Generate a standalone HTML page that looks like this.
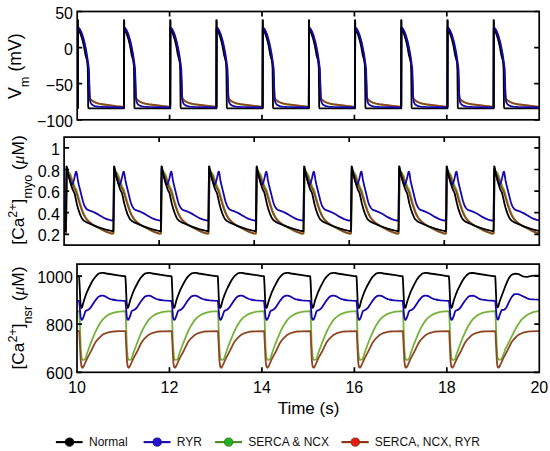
<!DOCTYPE html>
<html><head><meta charset="utf-8"><title>Simulation traces</title>
<style>html,body{margin:0;padding:0;background:#fff;overflow:hidden;}svg{display:block;}</style>
</head><body>
<svg width="550" height="451" viewBox="0 0 550 451">
<rect width="550" height="451" fill="#fff"/>
<clipPath id="c0"><rect x="77.20" y="8.50" width="462.00" height="114.30"/></clipPath>
<clipPath id="c1"><rect x="64.10" y="134.10" width="475.20" height="114.00"/></clipPath>
<clipPath id="c2"><rect x="77.00" y="261.10" width="462.30" height="114.20"/></clipPath>
<g clip-path="url(#c0)"><g fill="none" stroke-width="1.80" stroke-linejoin="round" stroke-linecap="round"><path d="M77.2,107.0 77.7,107.0 77.8,105.2 78.0,28.0 78.8,28.3 79.6,29.5 81.0,32.3 82.2,35.5 83.2,38.9 84.2,43.1 85.4,48.4 86.4,54.1 87.6,61.5 88.5,69.8 88.9,75.8 89.6,94.6 89.7,96.3 90.0,98.4 90.4,99.2 90.9,100.0 92.2,101.0 93.6,101.8 95.2,102.6 97.3,103.4 100.9,104.3 116.4,106.3 123.9,107.0 124.0,105.2 124.2,28.0 125.0,28.3 125.8,29.5 127.2,32.3 128.3,35.1 129.4,38.9 130.3,42.6 131.5,47.9 132.5,53.4 133.7,60.7 134.6,68.4 135.1,75.8 135.8,94.6 136.1,97.9 136.6,99.2 137.0,99.8 137.8,100.5 140.0,102.0 142.8,103.1 145.7,104.0 148.6,104.5 162.1,106.2 170.1,107.0 170.2,105.2 170.4,28.0 171.2,28.3 172.0,29.5 173.4,32.3 174.5,35.1 175.6,38.9 176.5,42.6 177.7,47.9 178.7,53.4 179.9,60.7 180.8,68.4 181.3,75.8 182.0,94.6 182.3,97.9 182.8,99.2 183.2,99.8 184.0,100.5 186.2,102.0 189.0,103.1 191.9,104.0 194.8,104.5 208.3,106.2 216.3,107.0 216.4,105.2 216.6,28.0 217.4,28.3 218.2,29.5 219.6,32.3 220.7,35.1 221.8,38.9 222.7,42.6 223.9,47.9 224.9,53.4 226.1,60.7 227.0,68.4 227.5,75.8 228.2,94.6 228.5,97.9 229.0,99.2 229.4,99.8 230.2,100.5 232.4,102.0 235.2,103.1 238.1,104.0 241.0,104.5 254.5,106.2 262.5,107.0 262.6,105.2 262.8,28.0 263.6,28.3 264.4,29.5 265.8,32.3 266.9,35.1 268.0,38.9 268.9,42.6 270.1,47.9 271.1,53.4 272.3,60.7 273.2,68.4 273.7,75.8 274.4,94.6 274.7,97.9 275.2,99.2 275.6,99.8 276.4,100.5 278.6,102.0 281.4,103.1 284.3,104.0 287.2,104.5 300.7,106.2 308.7,107.0 308.8,105.2 309.0,28.0 309.8,28.3 310.6,29.5 312.0,32.3 313.1,35.1 314.2,38.9 315.1,42.6 316.3,47.9 317.3,53.4 318.5,60.7 319.4,68.4 319.9,75.8 320.6,94.6 320.9,97.9 321.4,99.2 321.8,99.8 322.6,100.5 324.8,102.0 327.6,103.1 330.5,104.0 333.4,104.5 346.9,106.2 354.9,107.0 355.0,105.2 355.2,28.0 356.0,28.3 356.8,29.5 358.2,32.3 359.3,35.1 360.4,38.9 361.3,42.6 362.5,47.9 363.5,53.4 364.7,60.7 365.6,68.4 366.1,75.8 366.8,94.6 367.1,97.9 367.6,99.2 368.0,99.8 368.8,100.5 371.0,102.0 373.8,103.1 376.7,104.0 379.6,104.5 393.1,106.2 401.1,107.0 401.2,105.2 401.4,28.0 402.2,28.3 403.0,29.5 404.4,32.3 405.5,35.1 406.6,38.9 407.5,42.6 408.7,47.9 409.7,53.4 410.9,60.7 411.8,68.4 412.3,75.8 413.0,94.6 413.3,97.9 413.8,99.2 414.2,99.8 415.0,100.5 417.2,102.0 420.0,103.1 422.9,104.0 425.8,104.5 439.3,106.2 447.3,107.0 447.4,105.2 447.6,28.0 448.4,28.3 449.2,29.5 450.6,32.3 451.7,35.1 452.8,38.9 453.7,42.6 454.9,47.9 455.9,53.4 457.1,60.7 458.0,68.4 458.5,75.8 459.2,94.6 459.5,97.9 460.0,99.2 460.4,99.8 461.2,100.5 463.4,102.0 466.2,103.1 469.1,104.0 472.0,104.5 485.5,106.2 493.5,107.0 493.6,105.2 493.8,28.0 494.6,28.3 495.4,29.5 496.8,32.3 497.9,35.1 499.0,38.9 499.9,42.6 501.1,47.9 502.1,53.4 503.3,60.7 504.2,68.4 504.7,75.8 505.4,94.6 505.7,97.9 506.2,99.2 506.6,99.8 507.4,100.5 509.6,102.0 512.4,103.1 515.3,104.0 518.1,104.5 531.5,106.2 539.2,107.0" stroke="#74b23a"/><path d="M77.2,106.8 77.7,106.8 77.8,105.0 78.0,28.0 79.2,29.4 80.4,31.7 81.2,33.7 82.2,36.5 83.1,39.7 84.1,44.0 86.1,53.9 87.2,61.4 88.2,69.7 88.9,79.1 89.6,95.2 90.0,98.2 90.4,98.9 90.9,99.6 92.6,100.8 94.1,101.8 97.4,103.1 100.9,104.0 116.5,106.1 123.9,106.8 124.0,105.0 124.2,28.0 125.4,29.4 126.6,31.7 127.4,33.7 128.4,36.5 129.3,39.7 130.3,44.0 132.3,53.9 133.4,61.4 134.4,69.7 135.1,79.1 135.8,95.2 136.1,97.7 136.5,98.7 137.3,99.7 140.1,101.7 142.6,102.8 145.5,103.7 148.2,104.2 162.3,106.0 170.1,106.8 170.2,105.0 170.4,28.0 171.6,29.4 172.8,31.7 173.6,33.7 174.6,36.5 175.5,39.7 176.5,44.0 178.5,53.9 179.6,61.4 180.6,69.7 181.3,79.1 182.0,95.2 182.3,97.7 182.7,98.7 183.5,99.7 186.3,101.7 188.8,102.8 191.7,103.7 194.4,104.2 208.5,106.0 216.3,106.8 216.4,105.0 216.6,28.0 217.8,29.4 219.0,31.7 219.8,33.7 220.8,36.5 221.7,39.7 222.7,44.0 224.7,53.9 225.8,61.4 226.8,69.7 227.5,79.1 228.2,95.2 228.5,97.7 228.9,98.7 229.7,99.7 232.5,101.7 235.0,102.8 237.9,103.7 240.6,104.2 254.7,106.0 262.5,106.8 262.6,105.0 262.8,28.0 264.0,29.4 265.2,31.7 266.0,33.7 267.0,36.5 267.9,39.7 268.9,44.0 270.9,53.9 272.0,61.4 273.0,69.7 273.7,79.1 274.4,95.2 274.7,97.7 275.1,98.7 275.9,99.7 278.7,101.7 281.2,102.8 284.1,103.7 286.8,104.2 300.9,106.0 308.7,106.8 308.8,105.0 309.0,28.0 310.2,29.4 311.4,31.7 312.2,33.7 313.2,36.5 314.1,39.7 315.1,44.0 317.1,53.9 318.2,61.4 319.2,69.7 319.9,79.1 320.6,95.2 320.9,97.7 321.3,98.7 322.1,99.7 324.9,101.7 327.4,102.8 330.3,103.7 333.0,104.2 347.1,106.0 354.9,106.8 355.0,105.0 355.2,28.0 356.4,29.4 357.6,31.7 358.4,33.7 359.4,36.5 360.3,39.7 361.3,44.0 363.3,53.9 364.4,61.4 365.4,69.7 366.1,79.1 366.8,95.2 367.1,97.7 367.5,98.7 368.3,99.7 371.1,101.7 373.6,102.8 376.5,103.7 379.2,104.2 393.3,106.0 401.1,106.8 401.2,105.0 401.4,28.0 402.6,29.4 403.8,31.7 404.6,33.7 405.6,36.5 406.5,39.7 407.5,44.0 409.5,53.9 410.6,61.4 411.6,69.7 412.3,79.1 413.0,95.2 413.3,97.7 413.7,98.7 414.5,99.7 417.3,101.7 419.8,102.8 422.7,103.7 425.4,104.2 439.5,106.0 447.3,106.8 447.4,105.0 447.6,28.0 448.8,29.4 450.0,31.7 450.8,33.7 451.8,36.5 452.7,39.7 453.7,44.0 455.7,53.9 456.8,61.4 457.8,69.7 458.5,79.1 459.2,95.2 459.5,97.7 459.9,98.7 460.7,99.7 463.5,101.7 466.0,102.8 468.9,103.7 471.6,104.2 485.7,106.0 493.5,106.8 493.6,105.0 493.8,28.0 495.0,29.4 496.2,31.7 497.0,33.7 498.0,36.5 498.9,39.7 499.9,44.0 501.9,53.9 503.0,61.4 504.0,69.7 504.7,79.1 505.4,95.2 505.7,97.7 506.1,98.7 506.9,99.7 509.7,101.7 512.2,102.8 515.1,103.7 517.8,104.2 531.8,106.0 539.2,106.8" stroke="#8e4622"/><path d="M77.2,108.4 77.7,108.4 77.8,105.3 78.0,20.4 78.1,26.2 78.2,27.8 78.5,29.0 78.8,30.0 79.6,31.5 80.9,34.9 82.4,39.7 83.9,46.1 85.6,55.6 86.8,59.4 87.5,62.7 87.7,65.4 87.8,70.6 88.2,106.3 88.4,107.9 88.6,108.2 89.1,108.3 90.1,108.4 123.9,108.4 124.0,105.3 124.2,20.4 124.3,26.2 124.4,27.8 124.7,29.0 125.0,30.0 125.8,31.5 127.1,34.9 128.6,39.7 130.1,46.1 131.8,55.6 133.0,59.4 133.7,62.7 133.9,65.4 134.0,70.6 134.4,106.3 134.5,107.4 134.7,108.1 135.3,108.3 136.2,108.4 170.1,108.4 170.2,105.3 170.4,20.4 170.5,26.2 170.6,27.8 170.9,29.0 171.2,30.0 172.0,31.5 173.3,34.9 174.8,39.7 176.3,46.1 178.0,55.6 179.2,59.4 179.9,62.7 180.1,65.4 180.2,70.6 180.6,106.3 180.7,107.4 180.9,108.1 181.5,108.3 182.4,108.4 216.3,108.4 216.4,105.3 216.6,20.4 216.7,26.2 216.8,27.8 217.1,29.0 217.4,30.0 218.2,31.5 219.5,34.9 221.0,39.7 222.5,46.1 224.2,55.6 225.4,59.4 226.1,62.7 226.3,65.4 226.4,70.6 226.8,106.3 226.9,107.4 227.1,108.1 227.7,108.3 228.6,108.4 262.5,108.4 262.6,105.3 262.8,20.4 262.9,26.2 263.0,27.8 263.3,29.0 263.6,30.0 264.4,31.5 265.7,34.9 267.2,39.7 268.7,46.1 270.4,55.6 271.6,59.4 272.3,62.7 272.5,65.4 272.6,70.6 273.0,106.3 273.1,107.4 273.3,108.1 273.9,108.3 274.8,108.4 308.7,108.4 308.8,105.3 309.0,20.4 309.1,26.2 309.2,27.8 309.5,29.0 309.8,30.0 310.6,31.5 311.9,34.9 313.4,39.7 314.9,46.1 316.6,55.6 317.8,59.4 318.5,62.7 318.7,65.4 318.8,70.6 319.2,106.3 319.3,107.4 319.5,108.1 320.1,108.3 321.0,108.4 354.9,108.4 355.0,105.3 355.2,20.4 355.3,26.2 355.4,27.8 355.7,29.0 356.0,30.0 356.8,31.5 358.1,34.9 359.6,39.7 361.1,46.1 362.8,55.6 364.0,59.4 364.7,62.7 364.9,65.4 365.0,70.6 365.4,106.3 365.5,107.4 365.7,108.1 366.3,108.3 367.2,108.4 401.1,108.4 401.2,105.3 401.4,20.4 401.5,26.2 401.6,27.8 401.9,29.0 402.2,30.0 403.0,31.5 404.3,34.9 405.8,39.7 407.3,46.1 409.0,55.6 410.2,59.4 410.9,62.7 411.1,65.4 411.2,70.6 411.6,106.3 411.7,107.4 411.9,108.1 412.5,108.3 413.4,108.4 447.3,108.4 447.4,105.3 447.6,20.4 447.7,26.2 447.8,27.8 448.1,29.0 448.4,30.0 449.2,31.5 450.5,34.9 452.0,39.7 453.5,46.1 455.2,55.6 456.4,59.4 457.1,62.7 457.3,65.4 457.4,70.6 457.8,106.3 457.9,107.4 458.1,108.1 458.7,108.3 459.6,108.4 493.5,108.4 493.6,105.3 493.8,20.4 493.9,26.2 494.0,27.8 494.3,29.0 494.6,30.0 495.4,31.5 496.7,34.9 498.2,39.7 499.7,46.1 501.4,55.6 502.6,59.4 503.3,62.7 503.5,65.4 503.6,70.6 504.0,106.3 504.1,107.4 504.3,108.1 504.9,108.3 505.8,108.4 539.2,108.4" stroke="#000000"/><path d="M77.2,107.5 77.7,107.5 77.8,105.7 78.0,28.0 79.0,28.2 79.7,29.0 81.4,32.2 82.4,35.1 83.6,38.8 84.7,43.5 85.9,48.9 87.0,55.3 88.5,65.7 88.9,69.2 89.1,74.7 89.6,95.6 89.8,98.6 90.1,100.7 90.8,103.1 91.2,103.7 91.6,104.2 92.6,105.0 93.6,105.6 94.8,106.1 96.0,106.3 98.5,106.7 101.2,106.8 123.9,107.5 124.0,105.7 124.2,28.0 125.2,28.2 125.9,29.0 127.4,32.0 128.5,34.7 129.6,38.4 130.7,42.5 131.8,47.7 133.0,53.9 134.1,61.4 135.1,69.2 135.9,97.3 136.3,100.7 136.8,102.4 137.3,103.5 138.4,104.8 139.9,105.7 141.3,106.2 143.7,106.6 148.3,106.9 170.1,107.5 170.2,105.7 170.4,28.0 171.4,28.2 172.1,29.0 173.6,32.0 174.7,34.7 175.8,38.4 176.9,42.5 178.0,47.7 179.2,53.9 180.3,61.4 181.3,69.2 182.1,97.3 182.5,100.7 183.0,102.4 183.5,103.5 184.6,104.8 186.1,105.7 187.5,106.2 189.9,106.6 194.5,106.9 216.3,107.5 216.4,105.7 216.6,28.0 217.6,28.2 218.3,29.0 219.8,32.0 220.9,34.7 222.0,38.4 223.1,42.5 224.2,47.7 225.4,53.9 226.5,61.4 227.5,69.2 228.3,97.3 228.7,100.7 229.2,102.4 229.7,103.5 230.8,104.8 232.3,105.7 233.7,106.2 236.1,106.6 240.7,106.9 262.5,107.5 262.6,105.7 262.8,28.0 263.8,28.2 264.5,29.0 266.0,32.0 267.1,34.7 268.2,38.4 269.3,42.5 270.4,47.7 271.6,53.9 272.7,61.4 273.7,69.2 274.5,97.3 274.9,100.7 275.4,102.4 275.9,103.5 277.0,104.8 278.5,105.7 279.9,106.2 282.3,106.6 286.9,106.9 308.7,107.5 308.8,105.7 309.0,28.0 310.0,28.2 310.7,29.0 312.2,32.0 313.3,34.7 314.4,38.4 315.5,42.5 316.6,47.7 317.8,53.9 318.9,61.4 319.9,69.2 320.7,97.3 321.1,100.7 321.6,102.4 322.1,103.5 323.2,104.8 324.7,105.7 326.1,106.2 328.5,106.6 333.1,106.9 354.9,107.5 355.0,105.7 355.2,28.0 356.2,28.2 356.9,29.0 358.4,32.0 359.5,34.7 360.6,38.4 361.7,42.5 362.8,47.7 364.0,53.9 365.1,61.4 366.1,69.2 366.9,97.3 367.3,100.7 367.8,102.4 368.3,103.5 369.4,104.8 370.9,105.7 372.3,106.2 374.7,106.6 379.3,106.9 401.1,107.5 401.2,105.7 401.4,28.0 402.4,28.2 403.1,29.0 404.6,32.0 405.7,34.7 406.8,38.4 407.9,42.5 409.0,47.7 410.2,53.9 411.3,61.4 412.3,69.2 413.1,97.3 413.5,100.7 414.0,102.4 414.5,103.5 415.6,104.8 417.1,105.7 418.5,106.2 420.9,106.6 425.5,106.9 447.3,107.5 447.4,105.7 447.6,28.0 448.6,28.2 449.3,29.0 450.8,32.0 451.9,34.7 453.0,38.4 454.1,42.5 455.2,47.7 456.4,53.9 457.5,61.4 458.5,69.2 459.3,97.3 459.7,100.7 460.2,102.4 460.7,103.5 461.8,104.8 463.3,105.7 464.7,106.2 467.1,106.6 471.7,106.9 493.5,107.5 493.6,105.7 493.8,28.0 494.8,28.2 495.5,29.0 497.0,32.0 498.1,34.7 499.2,38.4 500.3,42.5 501.4,47.7 502.6,53.9 503.7,61.4 504.7,69.2 505.5,97.3 505.9,100.7 506.4,102.4 506.9,103.5 508.0,104.8 509.5,105.7 510.9,106.2 513.3,106.6 517.8,106.9 539.2,107.5" stroke="#1606b0"/></g></g>
<path clip-path="url(#c0)" d="M77.87 108.39 V19.44 M124.07 108.39 V19.44 M170.27 108.39 V19.44 M216.47 108.39 V19.44 M262.67 108.39 V19.44 M308.87 108.39 V19.44 M355.07 108.39 V19.44 M401.27 108.39 V19.44 M447.47 108.39 V19.44 M493.67 108.39 V19.44 " stroke="#000" stroke-width="1.80" fill="none"/>
<g clip-path="url(#c1)"><g fill="none" stroke-width="1.80" stroke-linejoin="round" stroke-linecap="round"><path d="M64.1,233.9 65.8,233.9 65.9,233.5 66.0,231.4 67.1,178.5 67.4,170.6 68.0,171.0 69.7,173.3 70.5,174.7 71.1,176.0 73.2,182.9 74.9,186.8 76.2,189.4 76.8,190.9 80.1,203.0 82.5,210.5 84.2,214.6 85.4,216.8 86.4,218.5 88.1,220.6 90.0,222.4 92.4,224.4 95.1,226.2 104.5,231.1 108.3,232.7 111.6,233.9 113.3,233.9 113.4,233.5 113.5,231.4 114.6,178.5 114.9,170.6 115.5,171.0 117.2,173.3 118.0,174.7 118.6,176.0 120.8,182.9 122.4,186.8 123.7,189.4 124.3,190.9 127.7,203.0 130.0,210.5 131.7,214.6 132.9,216.8 134.0,218.5 135.6,220.6 137.5,222.4 139.9,224.4 142.6,226.2 152.0,231.1 155.8,232.7 159.1,233.9 160.8,233.9 160.9,233.5 161.0,231.4 162.1,178.5 162.5,170.6 163.1,171.0 164.7,173.3 165.6,174.7 166.1,176.0 168.3,182.9 170.0,186.8 171.3,189.4 171.9,190.9 175.2,203.0 177.6,210.5 179.2,214.6 180.4,216.8 181.5,218.5 183.1,220.6 185.0,222.4 187.4,224.4 190.1,226.2 199.5,231.1 203.3,232.7 206.7,233.9 208.3,233.9 208.4,233.5 208.6,231.4 209.6,178.5 210.0,170.6 210.6,171.0 212.2,173.3 213.1,174.7 213.7,176.0 215.8,182.9 217.5,186.8 218.8,189.4 219.4,190.9 222.7,203.0 225.1,210.5 226.7,214.6 227.9,216.8 229.0,218.5 230.7,220.6 232.6,222.4 234.9,224.4 237.7,226.2 247.1,231.1 250.9,232.7 254.2,233.9 255.8,233.9 256.0,233.5 256.1,231.4 257.1,178.5 257.5,170.6 258.1,171.0 259.8,173.3 260.6,174.7 261.2,176.0 263.3,182.9 265.0,186.8 266.3,189.4 266.9,190.9 270.2,203.0 272.6,210.5 274.3,214.6 275.4,216.8 276.5,218.5 278.2,220.6 280.1,222.4 282.5,224.4 285.2,226.2 294.6,231.1 298.4,232.7 301.7,233.9 303.4,233.9 303.5,233.5 303.6,231.4 304.7,178.5 305.0,170.6 305.6,171.0 307.3,173.3 308.1,174.7 308.7,176.0 310.8,182.9 312.5,186.8 313.8,189.4 314.4,190.9 317.7,203.0 320.1,210.5 321.7,214.3 322.8,216.6 323.9,218.4 325.5,220.3 327.2,222.1 329.6,224.1 332.1,225.8 334.5,227.2 341.6,230.9 344.7,232.3 347.8,233.4 349.2,233.9 350.9,233.9 351.0,233.5 351.4,222.9 352.2,178.5 352.5,170.6 353.1,171.0 354.7,173.2 356.1,175.7 358.4,182.9 360.0,186.8 361.3,189.4 361.9,190.9 365.5,203.8 367.8,210.8 369.4,214.8 370.6,217.0 371.7,218.7 373.5,220.8 375.7,222.9 378.2,224.9 381.2,226.7 388.5,230.6 391.6,232.0 396.7,233.9 398.4,233.9 398.5,233.5 398.8,227.8 399.7,178.5 400.1,170.6 400.7,171.0 402.2,173.2 403.6,175.7 405.9,182.9 407.6,186.8 408.9,189.4 409.5,190.9 413.0,203.8 415.3,210.8 416.9,214.8 418.1,217.0 419.2,218.7 421.0,220.8 423.2,222.9 425.7,224.9 428.7,226.7 436.1,230.6 439.2,232.0 444.3,233.9 445.9,233.9 446.0,233.5 446.3,227.8 447.2,178.5 447.6,170.6 448.2,171.0 449.7,173.2 451.2,175.7 453.4,182.9 455.1,186.8 456.4,189.4 457.0,190.9 460.5,203.8 462.8,210.8 464.5,214.8 465.6,217.0 466.7,218.7 468.5,220.8 470.8,222.9 473.2,224.9 476.2,226.7 483.6,230.6 486.7,232.0 491.8,233.9 493.4,233.9 493.6,233.5 493.7,231.4 493.9,222.9 494.7,178.5 495.0,171.6 495.1,170.6 495.2,170.6 495.7,171.0 497.5,173.5 498.8,176.0 500.9,182.9 502.6,186.8 503.9,189.4 504.5,190.9 507.8,203.0 510.2,210.5 511.9,214.6 513.0,216.8 514.1,218.5 515.8,220.6 517.7,222.4 520.1,224.4 522.8,226.2 532.2,231.1 536.0,232.7 539.3,233.9" stroke="#74b23a"/><path d="M64.1,233.4 65.8,233.4 65.9,232.8 66.1,223.7 66.7,182.2 67.0,172.2 67.1,171.1 67.4,171.3 67.9,172.0 70.5,177.1 72.8,184.5 74.0,187.3 75.6,190.5 76.2,192.0 79.2,202.3 81.6,209.6 83.5,214.3 84.7,216.5 85.8,218.4 87.3,220.1 89.2,221.9 91.5,223.7 94.3,225.4 104.4,230.8 108.2,232.3 111.6,233.4 113.3,233.4 113.4,232.8 113.6,223.7 114.2,182.2 114.5,172.2 114.6,171.1 114.9,171.3 115.4,172.0 118.0,177.1 120.3,184.5 121.5,187.3 123.1,190.5 123.7,192.0 126.7,202.3 129.1,209.6 131.0,214.3 132.2,216.5 133.4,218.4 134.8,220.1 136.7,221.9 139.1,223.7 141.8,225.4 151.9,230.8 155.7,232.3 159.1,233.4 160.8,233.4 160.9,232.8 161.2,223.7 161.8,182.2 162.0,172.2 162.1,171.1 162.5,171.3 162.9,172.0 165.6,177.1 167.8,184.5 169.0,187.3 170.7,190.5 171.3,192.0 174.2,202.3 176.6,209.6 178.5,214.3 179.7,216.5 180.9,218.4 182.3,220.1 184.2,221.9 186.6,223.7 189.3,225.4 199.4,230.8 203.2,232.3 206.7,233.4 208.3,233.4 208.4,232.8 208.7,223.7 209.3,182.2 209.5,172.2 209.6,171.1 210.0,171.3 210.5,172.0 213.1,177.1 215.3,184.5 216.5,187.3 218.2,190.5 218.8,192.0 221.7,202.3 224.1,209.6 226.0,214.3 227.2,216.5 228.4,218.4 229.8,220.1 231.7,221.9 234.1,223.7 236.8,225.4 246.9,230.8 250.7,232.3 254.2,233.4 255.8,233.4 256.0,232.8 256.2,223.7 256.8,182.2 257.0,172.2 257.1,171.1 257.5,171.3 258.0,172.0 260.6,177.1 262.9,184.5 264.0,187.3 265.7,190.5 266.3,192.0 269.3,202.3 271.6,209.6 273.5,214.3 274.7,216.5 275.9,218.4 277.3,220.1 279.2,221.9 281.6,223.7 284.4,225.4 294.5,230.8 298.3,232.3 301.7,233.4 303.4,233.4 303.5,232.8 303.7,223.7 304.3,182.2 304.6,172.2 304.7,171.1 305.0,171.3 305.5,172.0 308.1,177.1 310.4,184.5 311.6,187.3 313.2,190.5 313.8,192.0 316.8,202.3 319.2,209.6 321.1,214.3 322.3,216.5 323.4,218.4 324.9,220.1 326.8,221.9 329.1,223.7 331.9,225.4 342.0,230.8 345.8,232.3 349.2,233.4 350.9,233.4 351.0,232.8 351.2,223.7 351.8,182.2 352.1,172.2 352.2,171.1 352.5,171.3 353.0,172.0 355.6,177.1 357.9,184.5 359.1,187.3 360.7,190.5 361.3,192.0 364.3,202.3 366.6,209.3 368.3,213.8 370.4,217.5 371.4,219.0 372.9,220.6 374.4,222.0 376.5,223.6 381.4,226.5 389.8,230.9 393.5,232.4 396.7,233.4 398.4,233.4 398.5,232.8 398.8,223.7 399.4,182.2 399.6,172.2 399.7,171.1 400.1,171.3 400.5,172.0 403.2,177.1 405.4,184.5 406.6,187.3 408.3,190.5 408.9,192.0 411.8,202.3 414.3,209.9 416.1,214.3 417.4,216.7 418.6,218.6 420.5,220.7 422.9,222.7 425.4,224.4 429.4,226.8 436.1,230.3 439.0,231.6 441.8,232.7 444.3,233.4 445.9,233.4 446.0,232.8 446.2,229.5 446.9,182.2 447.1,172.2 447.2,171.1 447.6,171.3 448.1,172.0 450.7,177.1 452.9,184.5 454.1,187.3 455.8,190.5 456.4,192.0 459.3,202.3 461.8,209.9 463.6,214.3 464.9,216.7 466.1,218.6 468.0,220.7 470.4,222.7 472.9,224.4 476.9,226.8 483.6,230.3 486.6,231.6 489.3,232.7 491.8,233.4 493.4,233.4 493.6,232.8 493.8,223.7 494.5,176.1 494.6,172.2 494.7,171.1 494.9,171.2 495.6,172.0 498.2,177.1 500.5,184.5 501.6,187.3 503.3,190.5 503.9,192.0 506.9,202.3 509.2,209.6 511.1,214.3 512.3,216.5 513.5,218.4 514.9,220.1 516.8,221.9 519.2,223.7 522.0,225.4 532.1,230.8 535.9,232.3 539.3,233.4" stroke="#8e4622"/><path d="M64.1,220.5 65.8,220.5 65.9,219.2 66.4,178.9 66.6,169.0 66.8,169.2 67.2,170.1 68.6,176.3 70.3,181.3 71.2,183.7 71.7,184.4 72.1,184.6 72.4,184.5 72.9,183.4 74.3,178.4 75.6,172.7 76.0,171.8 76.2,171.7 76.3,171.7 76.8,173.5 77.8,179.7 78.8,184.7 82.9,201.3 83.7,203.8 84.5,205.9 85.4,207.3 86.3,208.7 87.1,209.4 88.5,210.2 89.8,210.7 92.7,211.7 95.3,212.9 98.1,214.4 102.0,216.8 105.6,218.7 108.4,219.7 111.6,220.5 113.3,220.5 113.4,219.2 113.9,178.9 114.1,169.0 114.4,169.2 114.7,170.1 116.1,176.3 117.8,181.3 118.7,183.7 119.2,184.4 119.6,184.6 119.9,184.5 120.4,183.4 121.8,178.4 123.1,172.7 123.5,171.8 123.7,171.7 123.9,171.7 124.3,173.5 125.3,179.7 126.4,184.7 130.4,201.3 131.2,203.8 132.1,205.9 132.9,207.3 133.8,208.7 134.7,209.4 136.0,210.2 137.3,210.7 140.3,211.7 142.9,212.9 145.6,214.4 149.5,216.8 153.1,218.7 155.9,219.7 159.1,220.5 160.8,220.5 160.9,219.2 161.4,178.9 161.6,169.0 161.9,169.2 162.2,170.1 163.7,176.3 165.3,181.3 166.3,183.7 166.7,184.4 167.1,184.6 167.5,184.5 167.9,183.4 169.4,178.4 170.7,172.7 171.0,171.8 171.3,171.7 171.4,171.7 171.9,173.5 172.8,179.7 173.9,184.7 177.9,201.3 178.7,203.8 179.6,205.9 180.4,207.3 181.4,208.7 182.2,209.4 183.5,210.2 184.8,210.7 187.8,211.7 190.4,212.9 193.1,214.4 197.0,216.8 200.6,218.7 203.5,219.7 206.7,220.5 208.3,220.5 208.4,219.2 208.9,178.9 209.2,169.0 209.4,169.2 209.7,170.1 211.2,176.3 212.8,181.3 213.8,183.7 214.3,184.4 214.6,184.6 215.0,184.5 215.5,183.4 216.9,178.4 218.2,172.7 218.5,171.8 218.8,171.7 218.9,171.7 219.4,173.5 220.3,179.7 221.4,184.7 225.4,201.3 226.3,203.8 227.1,205.9 227.9,207.3 228.9,208.7 229.7,209.4 231.0,210.2 232.3,210.7 235.3,211.7 237.9,212.9 240.6,214.4 244.6,216.8 248.1,218.7 251.0,219.7 254.2,220.5 255.8,220.5 256.0,219.2 256.4,178.9 256.7,169.0 256.9,169.2 257.3,170.1 258.7,176.3 260.4,181.3 261.3,183.7 261.8,184.4 262.1,184.6 262.5,184.5 263.0,183.4 264.4,178.4 265.7,172.7 266.1,171.8 266.3,171.7 266.4,171.7 266.9,173.5 267.8,179.7 268.9,184.7 273.0,201.3 273.8,203.8 274.6,205.9 275.4,207.3 276.4,208.7 277.2,209.4 278.5,210.2 279.8,210.7 282.8,211.7 285.4,212.9 288.2,214.4 292.1,216.8 295.5,218.6 298.0,219.6 301.2,220.4 303.4,220.5 303.5,219.2 304.0,178.9 304.2,169.0 304.4,169.2 304.8,170.1 306.2,176.3 307.9,181.3 308.8,183.7 309.3,184.4 309.7,184.6 310.0,184.5 310.5,183.4 311.9,178.4 313.2,172.7 313.6,171.8 313.8,171.7 313.9,171.7 314.4,173.5 315.4,179.7 316.4,184.7 320.5,201.3 321.3,203.8 322.1,205.9 323.1,207.5 324.0,208.8 325.0,209.6 326.2,210.2 330.2,211.6 332.7,212.8 335.6,214.3 339.7,216.9 343.6,218.9 345.7,219.6 348.0,220.3 349.2,220.5 350.9,220.5 351.0,219.2 351.1,212.4 351.5,178.9 351.7,169.0 352.0,169.2 352.3,170.1 353.7,176.3 355.4,181.3 356.3,183.7 356.8,184.4 357.2,184.6 357.5,184.5 358.0,183.4 359.4,178.4 360.7,172.7 361.1,171.8 361.3,171.7 361.5,171.7 361.9,173.5 362.9,179.7 364.0,184.7 368.0,201.3 368.8,203.8 369.7,205.9 370.6,207.5 371.6,208.8 372.5,209.6 373.7,210.2 377.7,211.6 380.2,212.8 383.1,214.3 387.2,216.9 391.2,218.9 393.2,219.6 395.6,220.3 396.7,220.5 398.4,220.5 398.5,219.2 398.6,212.4 399.0,178.9 399.2,169.0 399.5,169.2 399.8,170.1 401.3,176.3 402.9,181.3 403.9,183.7 404.3,184.4 404.7,184.6 405.1,184.5 405.5,183.4 407.0,178.4 408.3,172.7 408.6,171.8 408.9,171.7 409.0,171.7 409.5,173.5 410.4,179.7 411.5,184.7 415.5,201.3 416.3,203.8 417.2,205.9 418.1,207.5 419.1,208.8 420.0,209.6 421.2,210.2 425.3,211.6 427.7,212.8 430.6,214.3 434.8,216.9 438.7,218.9 440.7,219.6 443.1,220.3 444.3,220.5 445.9,220.5 446.0,219.2 446.2,212.4 446.5,178.9 446.8,169.0 447.0,169.2 447.3,170.1 448.8,176.3 450.4,181.3 451.4,183.7 451.9,184.4 452.2,184.6 452.6,184.5 453.1,183.4 454.5,178.4 455.8,172.7 456.1,171.8 456.4,171.7 456.5,171.7 457.0,173.5 457.9,179.7 459.0,184.7 463.0,201.3 463.9,203.8 464.7,205.9 465.6,207.5 466.6,208.8 467.5,209.6 468.7,210.2 472.8,211.6 475.3,212.8 478.1,214.3 482.3,216.9 486.2,218.9 488.2,219.6 490.6,220.3 491.8,220.5 493.4,220.5 493.6,219.2 493.7,212.4 494.0,178.9 494.3,169.0 494.5,169.2 494.9,170.1 496.3,176.3 498.0,181.3 498.9,183.7 499.4,184.4 499.7,184.6 500.1,184.5 500.6,183.4 502.0,178.4 503.3,172.7 503.7,171.8 503.9,171.7 504.0,171.7 504.5,173.5 505.4,179.7 506.5,184.7 510.6,201.3 511.4,203.8 512.2,205.9 513.0,207.3 514.0,208.7 514.8,209.4 516.1,210.2 517.4,210.7 520.4,211.7 523.0,212.9 525.8,214.4 529.7,216.8 533.2,218.7 536.1,219.7 539.3,220.5" stroke="#1606b0"/><path d="M64.1,231.0 65.8,231.0 65.9,228.9 66.5,166.3 66.7,166.5 67.0,167.2 68.4,174.9 70.6,183.4 72.5,189.2 73.0,190.3 74.1,192.2 74.6,193.5 76.7,203.2 78.2,209.1 80.0,214.1 81.4,217.4 82.4,219.1 83.9,220.7 86.2,222.1 94.5,225.8 104.1,229.1 108.1,230.1 111.6,231.0 113.3,231.0 113.4,228.9 114.0,166.3 114.2,166.5 114.5,167.2 115.9,174.9 118.2,183.4 120.1,189.2 120.5,190.3 121.6,192.2 122.1,193.5 124.2,203.2 125.8,209.1 127.5,214.1 129.0,217.4 129.9,219.1 131.5,220.7 133.7,222.1 142.0,225.8 151.7,229.1 155.6,230.1 159.1,231.0 160.8,231.0 160.9,228.9 161.5,166.3 161.8,166.5 162.0,167.2 163.4,174.9 165.7,183.4 167.6,189.2 168.0,190.3 169.1,192.2 169.6,193.5 171.7,203.2 173.3,209.1 175.1,214.1 176.5,217.4 177.4,219.1 179.0,220.7 181.2,222.1 189.6,225.8 199.2,229.1 203.1,230.1 206.7,231.0 208.3,231.0 208.4,228.9 209.0,166.3 209.3,166.5 209.5,167.2 210.9,174.9 213.2,183.4 215.1,189.2 215.6,190.3 216.6,192.2 217.1,193.5 219.3,203.2 220.8,209.1 222.6,214.1 224.0,217.4 225.0,219.1 226.5,220.7 228.8,222.1 237.1,225.8 246.7,229.1 250.6,230.1 254.2,231.0 255.8,231.0 256.0,228.9 256.6,166.3 256.8,166.5 257.0,167.2 258.5,174.9 260.7,183.4 262.6,189.2 263.1,190.3 264.2,192.2 264.6,193.5 266.8,203.2 268.3,209.1 270.0,213.8 271.4,217.1 272.4,218.9 273.9,220.6 276.2,222.1 277.8,222.9 284.0,225.5 287.0,226.7 293.5,228.9 299.9,230.6 301.7,231.0 303.4,231.0 303.5,228.9 303.6,218.1 304.1,166.3 304.3,166.5 304.6,167.2 306.0,174.9 308.2,183.4 310.1,189.2 310.6,190.3 311.7,192.2 312.2,193.5 314.3,203.2 315.8,209.1 317.6,214.1 319.0,217.4 320.0,219.1 321.7,220.7 323.9,222.2 332.7,226.0 340.2,228.6 343.6,229.6 349.2,231.0 350.9,231.0 351.0,228.9 351.1,218.1 351.6,166.3 351.8,166.5 352.1,167.2 353.5,174.9 355.8,183.4 357.7,189.2 358.1,190.3 359.2,192.2 359.7,193.5 361.8,203.2 363.4,209.1 365.1,214.1 366.6,217.4 367.5,219.1 369.2,220.7 371.4,222.2 380.2,226.0 387.7,228.6 391.2,229.6 396.7,231.0 398.4,231.0 398.5,228.9 398.6,218.1 399.1,166.3 399.4,166.5 399.6,167.2 401.0,174.9 403.3,183.4 405.2,189.2 405.6,190.3 406.7,192.2 407.2,193.5 409.3,203.2 410.9,209.1 412.7,214.1 414.1,217.4 415.0,219.1 416.7,220.7 419.0,222.2 427.7,226.0 435.2,228.6 438.7,229.6 444.3,231.0 445.9,231.0 446.0,228.9 446.2,218.1 446.6,166.3 446.9,166.5 447.1,167.2 448.5,174.9 450.8,183.4 452.7,189.2 453.2,190.3 454.2,192.2 454.7,193.5 456.9,203.2 458.4,209.1 460.2,214.1 461.6,217.4 462.6,219.1 464.2,220.7 466.5,222.2 475.3,226.0 482.8,228.6 486.2,229.6 491.8,231.0 493.4,231.0 493.6,228.9 493.7,218.1 494.2,166.3 494.4,166.5 494.6,167.2 496.1,174.9 498.3,183.4 500.2,189.2 500.7,190.3 501.8,192.2 502.2,193.5 504.4,203.2 505.9,209.1 507.7,214.1 509.1,217.4 510.1,219.1 511.6,220.7 513.9,222.1 522.2,225.8 531.8,229.1 535.7,230.1 539.3,231.0" stroke="#000000"/></g></g>
<g clip-path="url(#c2)"><g fill="none" stroke-width="1.80" stroke-linejoin="round" stroke-linecap="round"><path d="M77.0,276.2 79.0,276.2 79.1,276.4 79.4,281.2 80.4,302.6 80.9,306.4 81.3,307.6 81.5,307.9 81.9,307.6 82.3,306.6 84.1,300.0 86.8,292.3 88.8,288.0 92.1,281.5 93.9,278.7 96.1,276.0 98.6,273.7 99.3,273.3 100.2,273.1 102.1,272.9 103.5,272.9 106.4,273.5 118.1,275.3 123.2,276.2 125.2,276.2 125.3,276.4 125.7,281.2 126.6,302.6 127.2,306.4 127.5,307.6 127.7,307.9 128.1,307.6 128.5,306.6 130.3,300.0 132.6,293.5 134.2,289.7 136.3,285.5 139.1,280.3 140.9,277.6 142.3,276.0 143.9,274.4 145.0,273.6 145.8,273.3 148.0,272.9 149.7,272.9 152.6,273.5 164.4,275.3 169.5,276.2 171.4,276.2 171.5,276.4 171.7,277.6 171.9,281.2 172.8,302.6 173.4,306.4 173.7,307.6 174.0,307.9 174.3,307.6 174.8,306.6 176.5,300.0 178.7,293.8 180.3,289.9 182.3,285.9 185.2,280.5 187.0,277.7 188.4,276.1 189.9,274.7 191.1,273.7 191.9,273.3 194.1,272.9 195.9,272.9 198.8,273.5 210.6,275.3 215.7,276.2 217.7,276.2 217.8,276.4 217.9,277.6 218.1,281.2 219.0,302.6 219.6,306.4 220.0,307.6 220.2,307.9 220.5,307.6 221.0,306.6 222.7,300.0 224.7,294.4 226.1,291.0 227.7,287.5 230.8,281.5 232.3,279.0 234.5,276.2 237.2,273.8 237.9,273.4 238.7,273.2 240.5,272.9 242.0,272.9 245.0,273.5 256.7,275.2 261.9,276.2 263.9,276.2 264.0,276.4 264.1,277.6 264.3,281.2 265.3,302.6 265.8,306.4 266.2,307.6 266.4,307.9 266.8,307.6 267.2,306.6 269.0,300.0 272.0,291.8 274.3,286.8 278.2,279.5 279.5,277.7 280.8,276.2 282.6,274.4 283.6,273.6 284.5,273.3 285.7,273.0 287.3,272.9 288.5,272.9 291.0,273.5 302.1,275.1 308.1,276.2 310.1,276.2 310.2,276.4 310.6,281.2 311.5,302.6 312.1,306.4 312.4,307.6 312.7,307.9 313.0,307.6 313.5,306.6 315.2,300.0 318.2,291.8 320.5,286.8 324.3,279.7 325.6,277.9 326.9,276.3 329.8,273.7 330.6,273.3 331.6,273.1 333.3,272.9 334.6,272.9 337.5,273.5 349.3,275.3 354.4,276.2 356.3,276.2 356.5,276.4 356.8,281.2 357.7,302.6 358.3,306.4 358.7,307.6 358.9,307.9 359.2,307.6 359.7,306.6 361.4,300.0 364.4,291.8 366.7,286.8 370.6,279.7 371.8,277.9 373.1,276.3 376.0,273.7 376.7,273.3 377.6,273.1 379.3,272.9 380.7,272.9 383.7,273.5 395.4,275.2 400.6,276.2 402.6,276.2 402.7,276.4 403.0,281.2 404.0,302.6 404.5,306.4 404.9,307.6 405.1,307.9 405.5,307.6 405.9,306.6 407.7,300.0 410.7,291.8 413.0,286.8 416.8,279.7 418.1,277.9 419.3,276.3 422.2,273.7 422.9,273.3 423.7,273.2 425.5,272.9 426.8,272.9 430.1,273.5 441.6,275.2 446.8,276.2 448.8,276.2 448.9,276.4 449.3,281.2 450.2,302.6 450.8,306.4 451.1,307.6 451.3,307.9 451.7,307.6 452.2,306.6 453.9,300.0 456.1,293.8 457.6,290.2 459.6,286.2 462.6,280.5 464.3,277.9 466.4,275.5 468.1,274.0 469.1,273.3 471.3,273.0 473.3,272.9 476.2,273.5 488.0,275.3 493.1,276.2 495.0,276.2 495.2,276.4 495.3,277.6 495.5,281.2 496.4,302.6 497.0,306.3 497.2,307.1 497.5,307.4 497.8,307.1 498.3,306.2 499.9,300.8 505.3,286.2 507.3,281.4 508.9,278.1 510.3,276.2 511.4,275.0 512.8,274.3 514.2,273.8 515.4,273.7 517.3,273.9 518.6,274.1 520.6,275.3 523.1,276.4 524.3,276.6 526.6,276.8 528.2,276.7 533.4,275.7 539.3,275.6" stroke="#000000"/><path d="M77.0,311.2 79.2,311.2 79.3,311.8 79.8,321.4 80.7,348.3 81.2,354.4 81.5,357.3 82.1,359.2 82.3,359.6 82.5,359.8 84.6,359.6 85.2,358.9 85.8,357.5 87.2,353.0 90.4,344.1 94.3,334.3 96.4,329.8 98.3,326.2 100.0,323.3 101.8,320.7 103.4,318.9 105.4,316.9 107.2,315.6 109.7,314.1 111.6,313.3 114.0,312.6 116.2,312.1 119.3,311.6 122.5,311.3 125.4,311.2 125.5,311.8 126.0,321.4 126.9,348.3 127.4,354.4 127.7,357.3 128.3,359.2 128.5,359.6 128.8,359.8 130.9,359.6 131.4,358.9 132.0,357.5 133.4,353.0 136.8,343.8 140.9,333.5 143.1,328.9 145.0,325.4 147.2,321.9 149.1,319.4 151.1,317.4 153.0,315.9 155.6,314.3 157.9,313.3 161.0,312.3 164.4,311.7 168.3,311.3 171.7,311.2 172.1,318.5 172.9,343.3 173.3,350.0 174.0,357.3 174.5,359.2 174.8,359.6 175.0,359.8 177.1,359.6 177.7,358.9 178.2,357.5 179.6,353.0 183.0,343.8 187.1,333.5 189.3,328.9 191.2,325.4 193.4,321.9 195.3,319.4 197.3,317.4 199.3,315.9 201.8,314.3 204.1,313.3 207.3,312.3 210.6,311.7 214.5,311.3 217.9,311.2 218.3,318.5 219.2,343.3 219.5,350.0 220.2,357.3 220.8,359.2 221.0,359.6 221.2,359.8 223.3,359.6 223.9,358.9 224.5,357.5 225.9,353.0 229.2,343.8 233.4,333.5 235.6,328.9 237.4,325.4 239.6,321.9 241.6,319.4 243.5,317.4 245.5,315.9 248.1,314.3 250.4,313.3 253.5,312.3 256.8,311.7 260.8,311.3 264.1,311.2 264.6,318.5 265.4,343.3 265.7,350.0 266.4,357.3 267.0,359.2 267.2,359.6 267.5,359.8 269.5,359.6 270.1,358.9 270.7,357.5 272.1,353.0 275.4,343.8 279.6,333.5 281.8,328.9 283.6,325.4 285.8,321.9 287.8,319.4 289.8,317.4 291.7,315.9 294.3,314.3 296.6,313.3 299.7,312.3 303.1,311.7 307.0,311.3 310.3,311.2 310.8,318.5 311.6,343.3 312.0,350.0 312.7,357.3 313.2,359.2 313.5,359.6 313.7,359.8 315.8,359.6 316.4,358.9 316.9,357.5 318.3,353.0 321.7,343.8 325.8,333.5 328.0,328.9 329.9,325.4 332.1,321.9 334.0,319.4 336.0,317.4 338.0,315.9 340.5,314.3 342.8,313.3 345.9,312.3 349.3,311.7 353.2,311.3 356.6,311.2 357.0,318.5 357.8,343.3 358.2,350.0 358.9,357.3 359.5,359.2 359.7,359.6 359.9,359.8 362.0,359.6 362.6,358.9 363.2,357.5 364.6,353.0 367.9,343.8 372.1,333.5 374.3,328.9 376.1,325.4 378.3,321.9 380.3,319.4 382.2,317.4 384.2,315.9 386.7,314.3 389.1,313.3 392.2,312.3 395.5,311.7 399.5,311.3 402.8,311.2 403.3,318.5 404.1,343.3 404.4,350.0 405.1,357.3 405.7,359.2 405.9,359.6 406.2,359.8 408.2,359.6 408.8,358.9 409.4,357.5 410.8,353.0 414.1,343.8 418.3,333.5 420.5,328.9 422.3,325.4 424.5,321.9 426.5,319.4 428.5,317.4 430.4,315.9 433.0,314.3 435.3,313.3 438.4,312.3 441.8,311.7 445.7,311.3 449.0,311.2 449.5,318.5 450.3,343.3 450.7,350.0 451.3,357.3 451.9,359.2 452.2,359.6 452.4,359.8 454.5,359.6 454.8,359.3 455.2,358.7 457.1,352.6 460.5,343.5 462.4,338.4 465.4,331.5 468.7,325.2 471.1,321.4 473.2,318.9 475.8,316.5 478.9,314.5 481.6,313.2 485.6,312.1 491.0,311.4 495.3,311.2 495.7,318.5 496.7,346.1 497.3,355.6 497.7,357.9 498.4,359.4 498.6,359.6 500.7,359.6 501.0,359.5 501.4,359.1 502.2,357.8 505.4,349.2 514.9,330.1 518.3,324.2 520.7,320.7 522.7,318.6 525.0,316.5 527.0,315.0 529.5,313.7 531.9,312.6 534.0,311.9 537.0,311.4 539.3,311.2" stroke="#74b23a"/><path d="M77.0,331.2 79.3,331.2 80.7,360.3 81.2,364.5 81.5,366.5 82.0,367.3 82.5,367.7 83.0,367.3 84.1,365.5 87.1,358.6 91.4,350.4 94.7,343.6 95.8,341.7 97.5,339.6 101.3,335.8 102.4,334.8 103.7,334.1 105.5,333.3 107.4,332.7 110.9,331.8 113.4,331.5 119.4,331.2 125.5,331.2 126.9,360.3 127.4,364.5 127.7,366.5 128.2,367.3 128.8,367.7 129.2,367.3 130.3,365.5 133.4,358.4 137.6,350.7 140.3,344.8 141.4,342.8 142.6,340.9 144.0,339.2 147.7,335.6 149.2,334.5 151.9,333.2 153.9,332.6 157.6,331.7 159.5,331.5 162.3,331.3 171.8,331.2 173.2,360.3 173.6,364.5 174.0,366.5 174.4,367.3 175.0,367.7 175.5,367.3 176.5,365.5 179.6,358.4 183.8,350.7 186.6,344.8 187.6,342.8 188.9,340.9 190.3,339.2 194.0,335.6 195.5,334.5 198.1,333.2 200.1,332.6 203.8,331.7 205.8,331.5 208.5,331.3 218.0,331.2 219.4,360.3 219.9,364.5 220.2,366.5 220.7,367.3 221.2,367.7 221.7,367.3 222.7,365.5 225.9,358.4 230.0,350.7 232.8,344.8 233.8,342.8 235.1,340.9 236.5,339.2 240.2,335.6 241.7,334.5 244.4,333.2 246.3,332.6 250.0,331.7 252.0,331.5 254.8,331.3 264.2,331.2 265.6,360.3 266.1,364.5 266.4,366.5 266.9,367.3 267.5,367.7 267.9,367.3 269.0,365.5 272.1,358.4 276.3,350.7 279.0,344.8 280.1,342.8 281.3,340.9 282.7,339.2 286.4,335.6 287.9,334.5 290.6,333.2 292.5,332.6 296.2,331.7 298.2,331.5 301.0,331.3 310.5,331.2 311.8,360.3 312.3,364.5 312.7,366.5 313.1,367.3 313.7,367.7 314.2,367.3 315.2,365.5 318.3,358.4 322.5,350.7 325.3,344.8 326.3,342.8 327.6,340.9 329.0,339.2 332.7,335.6 334.2,334.5 336.8,333.2 338.8,332.6 342.5,331.7 344.4,331.5 347.2,331.3 356.7,331.2 358.1,360.3 358.5,364.5 358.9,366.5 359.3,367.3 359.9,367.7 360.4,367.3 361.4,365.5 364.6,358.4 368.7,350.7 371.5,344.8 372.5,342.8 373.8,340.9 375.2,339.2 378.9,335.6 380.4,334.5 383.0,333.2 385.0,332.6 388.7,331.7 390.7,331.5 393.4,331.3 402.9,331.2 404.3,360.3 404.8,364.5 405.1,366.5 405.6,367.3 406.2,367.7 406.6,367.3 407.7,365.5 410.8,358.4 414.9,350.7 417.7,344.8 418.8,342.8 420.0,340.9 421.4,339.2 425.1,335.6 426.6,334.5 429.3,333.2 431.2,332.6 434.9,331.7 436.9,331.5 439.7,331.3 449.2,331.2 450.5,360.3 451.0,364.5 451.3,366.5 451.8,367.3 452.4,367.7 452.8,367.3 453.9,365.5 457.0,358.4 461.2,350.7 463.9,344.8 465.0,342.8 466.3,340.9 467.6,339.2 471.3,335.6 472.8,334.5 475.5,333.2 477.5,332.6 481.2,331.7 483.1,331.5 485.9,331.3 495.4,331.2 496.8,360.3 497.2,364.5 497.6,366.5 498.0,367.3 498.6,367.7 499.1,367.3 500.1,365.5 503.1,358.6 507.5,350.4 511.1,343.0 512.3,341.3 513.6,339.5 517.2,335.9 518.8,334.6 521.2,333.5 523.2,332.7 526.5,331.9 529.9,331.4 539.3,331.2" stroke="#8e4622"/><path d="M77.0,300.8 79.0,300.8 79.1,300.9 79.4,303.5 80.6,316.9 81.3,319.2 81.6,319.8 81.9,319.9 82.3,319.5 83.0,318.2 83.9,315.9 85.1,312.1 85.7,310.9 86.1,310.6 87.5,310.2 88.2,309.8 89.3,309.0 90.4,307.9 91.2,306.8 93.1,303.7 95.3,300.6 97.9,297.3 99.1,296.4 101.3,295.7 103.0,295.7 105.4,296.4 108.4,298.2 110.4,299.1 112.0,299.5 114.7,300.0 117.3,300.4 121.6,300.7 125.2,300.8 125.3,300.9 125.7,303.5 126.8,316.9 127.5,319.2 127.9,319.8 128.1,319.9 128.5,319.5 129.2,318.2 130.2,315.9 131.3,312.1 131.9,310.9 132.4,310.6 133.7,310.2 134.4,309.8 135.5,309.0 136.6,307.9 141.0,301.2 143.7,297.9 144.7,296.8 145.4,296.3 147.2,295.8 148.3,295.6 149.3,295.7 151.7,296.4 154.6,298.2 156.5,299.0 158.1,299.5 160.8,300.0 163.3,300.4 167.3,300.7 171.4,300.8 171.5,300.9 171.9,303.5 173.0,316.9 173.7,319.2 174.1,319.8 174.3,319.9 174.8,319.5 175.5,318.2 176.4,315.9 177.6,312.1 178.1,310.9 178.6,310.6 180.0,310.2 180.7,309.8 181.7,309.0 182.9,307.9 187.1,301.4 189.9,297.9 190.8,296.9 191.5,296.4 193.0,295.8 194.2,295.6 195.2,295.6 197.9,296.4 200.8,298.2 202.7,299.0 204.4,299.5 207.0,300.0 209.6,300.4 213.5,300.7 217.7,300.8 217.8,300.9 218.1,303.5 219.3,316.9 220.0,319.2 220.3,319.8 220.5,319.9 221.0,319.5 221.7,318.2 222.6,315.9 223.8,312.1 224.4,310.9 224.8,310.6 226.2,310.2 226.9,309.8 227.9,309.0 229.1,307.9 233.4,301.4 236.1,297.9 237.1,296.9 237.8,296.4 239.2,295.9 240.3,295.6 241.3,295.6 242.5,295.9 244.1,296.4 247.0,298.2 249.0,299.0 250.6,299.5 253.3,300.0 255.8,300.4 259.7,300.7 263.9,300.8 264.0,300.9 264.3,303.5 265.5,316.9 266.2,319.2 266.5,319.8 266.8,319.9 267.2,319.5 267.9,318.2 268.9,315.9 270.0,312.1 270.6,310.9 271.1,310.6 272.4,310.2 273.1,309.8 274.2,309.0 275.3,307.9 279.6,301.4 282.4,297.9 283.3,296.9 284.0,296.4 285.3,295.9 286.4,295.6 287.5,295.6 288.6,295.8 290.4,296.4 293.4,298.2 295.3,299.1 296.9,299.5 299.5,300.0 302.0,300.4 306.0,300.7 310.1,300.8 310.2,300.9 310.6,303.5 311.7,316.9 312.4,319.2 312.8,319.8 313.0,319.9 313.5,319.5 314.2,318.2 315.1,315.9 316.2,312.1 316.8,310.9 317.3,310.6 318.7,310.2 319.4,309.8 320.4,309.0 321.6,307.9 325.8,301.4 328.6,297.9 329.5,296.9 330.2,296.4 331.5,295.9 332.7,295.6 333.6,295.6 334.7,295.8 336.6,296.4 339.6,298.2 341.6,299.1 343.2,299.5 345.7,300.0 348.3,300.4 352.2,300.7 356.3,300.8 356.5,300.9 356.8,303.5 358.0,316.9 358.7,319.2 359.0,319.8 359.2,319.9 359.7,319.5 360.4,318.2 361.3,315.9 362.5,312.1 363.0,310.9 363.5,310.6 364.9,310.2 365.6,309.8 366.6,309.0 367.8,307.9 372.1,301.4 374.8,297.9 375.8,296.9 376.5,296.4 377.7,295.9 378.9,295.6 379.8,295.6 381.0,295.8 382.8,296.4 385.8,298.2 387.8,299.1 389.4,299.5 391.9,300.0 394.5,300.4 398.4,300.7 402.6,300.8 402.7,300.9 403.0,303.5 404.2,316.9 404.9,319.2 405.2,319.8 405.5,319.9 405.9,319.5 406.6,318.2 407.5,315.9 408.7,312.1 409.3,310.9 409.7,310.6 411.1,310.2 411.8,309.8 412.9,309.0 414.0,307.9 418.3,301.4 421.1,297.9 422.0,296.9 422.7,296.4 424.0,295.9 425.1,295.6 426.0,295.6 427.2,295.8 429.0,296.4 432.0,298.2 434.0,299.1 435.6,299.5 438.2,300.0 440.7,300.4 444.6,300.7 448.8,300.8 448.9,300.9 449.3,303.5 450.4,316.9 451.1,319.2 451.5,319.8 451.7,319.9 452.2,319.5 452.8,318.2 453.8,315.9 454.9,312.1 455.5,310.9 456.1,310.5 457.8,309.9 459.6,308.6 460.8,307.1 462.8,303.9 464.6,301.2 467.6,297.5 468.8,296.4 470.8,295.8 472.4,295.6 474.2,296.0 475.6,296.6 477.8,298.0 479.0,298.6 480.8,299.3 482.7,299.7 487.3,300.4 495.2,300.9 495.5,303.5 496.7,317.0 497.3,319.0 497.7,319.5 497.9,319.6 498.2,319.5 498.5,318.9 499.8,314.6 501.4,310.5 501.9,310.0 503.8,309.8 504.4,309.6 505.1,309.1 506.0,308.0 506.8,306.7 508.8,302.3 511.1,297.9 511.8,296.9 512.9,295.5 514.3,294.3 515.0,294.2 518.0,294.2 518.6,294.3 527.4,298.4 529.4,299.1 533.8,299.4 539.3,299.6" stroke="#1606b0"/></g></g>
<g stroke="#000" stroke-width="1.7" fill="none"><path d="M169.60 119.80 V114.80 M169.60 11.50 V16.50"/><path d="M262.00 119.80 V114.80 M262.00 11.50 V16.50"/><path d="M354.40 119.80 V114.80 M354.40 11.50 V16.50"/><path d="M446.80 119.80 V114.80 M446.80 11.50 V16.50"/><path d="M77.20 119.80 H82.20 M539.20 119.80 H534.20"/><path d="M77.20 83.70 H82.20 M539.20 83.70 H534.20"/><path d="M77.20 47.60 H82.20 M539.20 47.60 H534.20"/><path d="M77.20 11.50 H82.20 M539.20 11.50 H534.20"/><rect x="77.20" y="11.50" width="462.00" height="108.30" fill="none"/></g>
<g stroke="#000" stroke-width="1.7" fill="none"><path d="M159.14 245.10 V240.10 M159.14 137.10 V142.10"/><path d="M254.18 245.10 V240.10 M254.18 137.10 V142.10"/><path d="M349.22 245.10 V240.10 M349.22 137.10 V142.10"/><path d="M444.26 245.10 V240.10 M444.26 137.10 V142.10"/><path d="M64.10 234.30 H69.10 M539.30 234.30 H534.30"/><path d="M64.10 212.70 H69.10 M539.30 212.70 H534.30"/><path d="M64.10 191.10 H69.10 M539.30 191.10 H534.30"/><path d="M64.10 169.50 H69.10 M539.30 169.50 H534.30"/><path d="M64.10 147.90 H69.10 M539.30 147.90 H534.30"/><rect x="64.10" y="137.10" width="475.20" height="108.00" fill="none"/></g>
<g stroke="#000" stroke-width="1.7" fill="none"><path d="M169.46 372.30 V367.30 M169.46 264.10 V269.10"/><path d="M261.92 372.30 V367.30 M261.92 264.10 V269.10"/><path d="M354.38 372.30 V367.30 M354.38 264.10 V269.10"/><path d="M446.84 372.30 V367.30 M446.84 264.10 V269.10"/><path d="M77.00 372.30 H82.00 M539.30 372.30 H534.30"/><path d="M77.00 324.21 H82.00 M539.30 324.21 H534.30"/><path d="M77.00 276.12 H82.00 M539.30 276.12 H534.30"/><rect x="77.00" y="264.10" width="462.30" height="108.20" fill="none"/></g>
<g font-family='"Liberation Sans", sans-serif' font-size="16" fill="#000">
<text x="73.00" y="121.30" text-anchor="end" dominant-baseline="central">&#8722;100</text><text x="73.00" y="85.20" text-anchor="end" dominant-baseline="central">&#8722;50</text><text x="73.00" y="49.10" text-anchor="end" dominant-baseline="central">0</text><text x="73.00" y="13.00" text-anchor="end" dominant-baseline="central">50</text>
<text x="59.90" y="235.80" text-anchor="end" dominant-baseline="central">0.2</text><text x="59.90" y="214.20" text-anchor="end" dominant-baseline="central">0.4</text><text x="59.90" y="192.60" text-anchor="end" dominant-baseline="central">0.6</text><text x="59.90" y="171.00" text-anchor="end" dominant-baseline="central">0.8</text><text x="59.90" y="149.40" text-anchor="end" dominant-baseline="central">1</text>
<text x="72.80" y="373.80" text-anchor="end" dominant-baseline="central">600</text><text x="72.80" y="325.71" text-anchor="end" dominant-baseline="central">800</text><text x="72.80" y="277.62" text-anchor="end" dominant-baseline="central">1000</text>
<text x="77.00" y="393.2" text-anchor="middle">10</text>
<text x="169.46" y="393.2" text-anchor="middle">12</text>
<text x="261.92" y="393.2" text-anchor="middle">14</text>
<text x="354.38" y="393.2" text-anchor="middle">16</text>
<text x="446.84" y="393.2" text-anchor="middle">18</text>
<text x="539.30" y="393.2" text-anchor="middle">20</text>
</g>
<g font-family='"Liberation Sans", sans-serif' font-size="17" fill="#000">
<text x="308.5" y="414.2" text-anchor="middle">Time (s)</text>
<text transform="translate(20.6 66.2) rotate(-90)" text-anchor="middle" font-size="17.6">V<tspan font-size="12.8" dy="8">m</tspan><tspan dy="-8"> (mV)</tspan></text>
<text transform="translate(24.3 190.0) rotate(-90)" text-anchor="middle" font-size="17.3">[Ca<tspan font-size="12.6" dy="-7.7">2+</tspan><tspan dy="7.7">]</tspan><tspan font-size="12.6" dy="7.7">myo</tspan><tspan dy="-7.7"> (</tspan><tspan font-family='"Liberation Serif", serif' font-style="italic">&#956;</tspan>M)</text>
<text transform="translate(24.3 318.0) rotate(-90)" text-anchor="middle" font-size="17.3">[Ca<tspan font-size="12.6" dy="-7.7">2+</tspan><tspan dy="7.7">]</tspan><tspan font-size="12.6" dy="7.7">nsr</tspan><tspan dy="-7.7"> (</tspan><tspan font-family='"Liberation Serif", serif' font-style="italic">&#956;</tspan>M)</text>
</g>
<g font-family='"Liberation Sans", sans-serif' font-size="12" fill="#111">
<path d="M55.9 442.1 H82.6" stroke="#000" stroke-width="2.1"/>
<circle cx="69.5" cy="442.1" r="4.1" fill="#000" stroke="#000" stroke-width="0.9"/>
<text x="89.0" y="446">Normal</text>
<path d="M143.6 442.1 H170.5" stroke="#1a0aa8" stroke-width="2.1"/>
<circle cx="157.2" cy="442.1" r="4.1" fill="#2414d2" stroke="#120a80" stroke-width="0.9"/>
<text x="176.8" y="446">RYR</text>
<path d="M215.1 442.1 H242.0" stroke="#4a8a1e" stroke-width="2.1"/>
<circle cx="228.6" cy="442.1" r="4.1" fill="#22b022" stroke="#2a7a10" stroke-width="0.9"/>
<text x="248.3" y="446">SERCA &amp; NCX</text>
<path d="M341.5 442.1 H368.7" stroke="#8a3010" stroke-width="2.1"/>
<circle cx="355.3" cy="442.1" r="4.1" fill="#ea1a14" stroke="#8a2a10" stroke-width="0.9"/>
<text x="374.8" y="446">SERCA, NCX, RYR</text>
</g>
</svg>
</body></html>
